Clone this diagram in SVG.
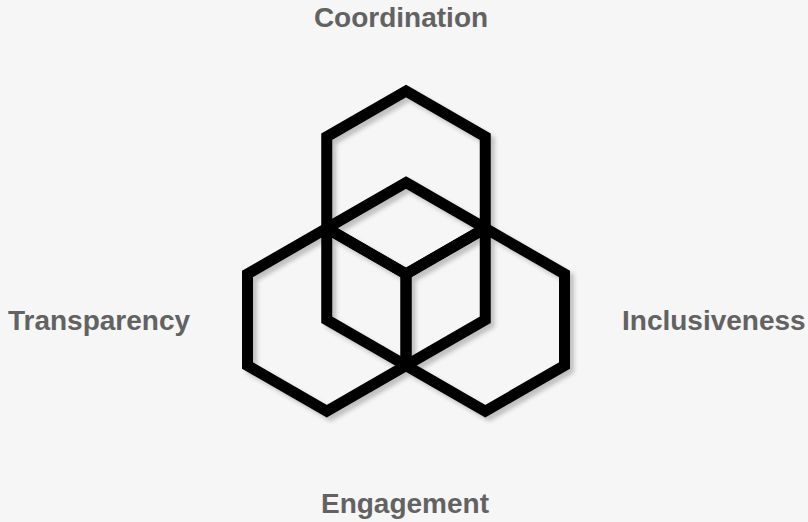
<svg xmlns="http://www.w3.org/2000/svg" width="808" height="522" viewBox="0 0 808 522">
  <defs>
    <filter id="shadow" x="-20%" y="-20%" width="140%" height="140%">
      <feDropShadow dx="4" dy="4" stdDeviation="2" flood-color="#000" flood-opacity="0.22"/>
    </filter>
    <style>
      .label { font-family: "Liberation Sans", Arial, Helvetica, sans-serif; font-weight: bold; font-size: 28px; fill: #626262; }
      .hex { fill: none; stroke: #000; stroke-width: 11; stroke-linejoin: miter; }
    </style>
  </defs>
  <rect width="808" height="522" fill="#f6f6f6"/>
  <g id="hexagons" filter="url(#shadow)">
    <g id="hex-top"><polygon class="hex" points="406,91 485.25,136.75 485.25,228.25 406,274 326.75,228.25 326.75,136.75"/></g>
    <g id="hex-middle"><polygon class="hex" points="406,182.5 485.25,228.25 485.25,319.75 406,365.5 326.75,319.75 326.75,228.25"/></g>
    <g id="hex-left"><polygon class="hex" points="326.75,228.25 406,274 406,365.5 326.75,411.25 247.5,365.5 247.5,274"/></g>
    <g id="hex-right"><polygon class="hex" points="485.25,228.25 564.5,274 564.5,365.5 485.25,411.25 406,365.5 406,274"/></g>
  </g>
  <g id="connectors"></g>
  <g id="label-coordination"><text class="label" x="401" y="27" text-anchor="middle">Coordination</text></g>
  <g id="label-transparency"><text class="label" x="99" y="330" text-anchor="middle">Transparency</text></g>
  <g id="label-inclusiveness"><text class="label" x="622" y="330">Inclusiveness</text></g>
  <g id="label-engagement"><text class="label" x="405" y="513" text-anchor="middle">Engagement</text></g>
</svg>
